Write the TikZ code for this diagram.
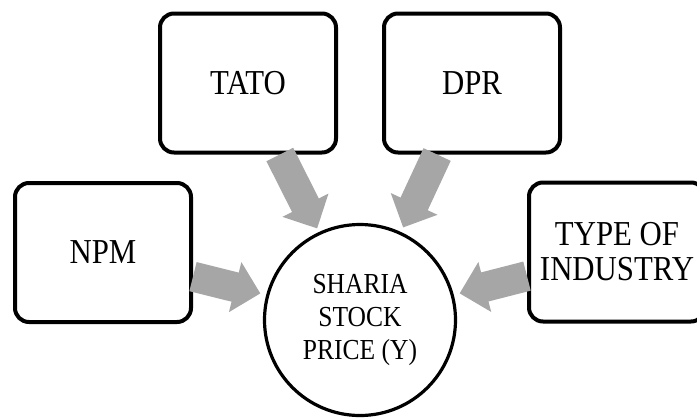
\documentclass[tikz,border=0pt]{standalone}
\usepackage{fontspec}
\setmainfont{Liberation Serif}[FakeStretch=0.88]
\usetikzlibrary{arrows.meta}
\definecolor{arrowgray}{RGB}{166,166,166}
\tikzset{
	factor/.style={draw,line width=2pt,rounded corners=7pt,minimum width=88pt,minimum height=69.5pt,align=center,font=\fontsize{17.5}{17.5}\selectfont},
	target/.style={draw,circle,line width=1.6pt,minimum size=95.5pt,inner sep=0pt,align=center,font=\fontsize{14.5}{16.3}\selectfont},
	influence/.style={arrowgray,line width=15pt,-{Triangle[width=25pt,length=13pt]}}
}

\begin{document}
\begin{tikzpicture}[x=0.5pt,y=-0.5pt]
			\useasboundingbox (0,0) rectangle (697,419);
			\node[factor] (npm) at (103,252.5) {NPM};
			\node[factor] (tato) at (248,83) {TATO};
			\node[factor] (dpr) at (472,83) {DPR};
			\node[factor] (type) at (617,252) {TYPE OF\\INDUSTRY};
			\node[target] (price) at (360,320) {SHARIA\\STOCK\\PRICE (Y)};
			\draw[influence,shorten >=3pt] (npm.-15) -- (price.165);
			\draw[influence,shorten >=2pt] (tato.-66) -- (price.115);
			\draw[influence,shorten >=2.5pt] (dpr.-116) -- (price.65);
			\draw[influence,shorten >=3pt] (type.195) -- (price.15);
		\end{tikzpicture}
\end{document}
